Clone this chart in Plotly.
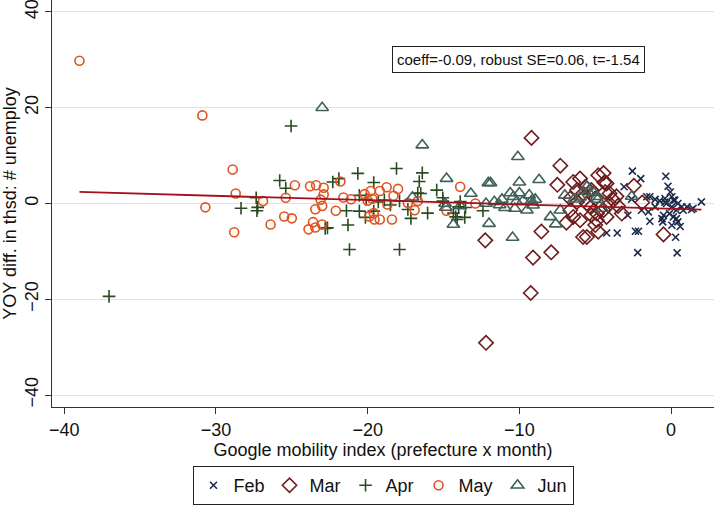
import plotly.graph_objects as go

# ---------------- data ----------------
feb_x = [-2.55, -2.0, -3.1, -0.35, -0.2, -0.05, -1.4, -1.05, -0.75, -0.4, 0.05, 0.25, 0.45, 0.7, 1.05, 1.35,
         2.0, -0.3, 0.05, 0.35, -1.5, -2.85, -1.4, -0.6, -0.55, 0.15, 0.45, 0.05, -4.25, -3.55, -2.35, -2.15,
         0.3, -2.2, 0.4, -1.6, 0.6, -0.5, -1.95, -1.05, 0.35, -0.1, 0.8, 1.45, -0.4, 0.15, -2.6]
feb_y = [6.75, 5.2, 3.5, 5.7, 3.6, 2.4, 1.4, 0.85, 0.55, 1.05, 1.4, 0.7, 0.0, -0.7, -0.7, -1.25,
         0.35, 0.0, -0.7, -1.4, -1.75, -2.45, -3.7, -3.15, -3.85, -2.8, -3.85, -4.55, -6.15, -6.15, -5.8, -5.8,
         -7.05, -10.25, -10.3, 1.4, -4.8, -2.45, -1.4, -0.7, -3.15, -2.1, -1.4, -1.05, 0.3, 0.7, 0.9]

mar_x = [-9.2, -7.3, -7.5, -12.25, -8.55, -9.1, -7.9, -9.25, -12.2, -4.45, -2.45, -1.9, -0.5, -4.4, -6.45,
         -6.0, -5.65, -6.2, -5.8, -5.25, -6.65, -6.2, -5.55, -5.0, -4.8, -6.45, -6.0, -5.8, -5.55, -6.65,
         -5.25, -4.9, -4.8, -3.25, -4.25, -4.05, -4.35, -3.8, -4.15, -4.45, -5.0, -4.25, -4.9, -3.6, -5.3,
         -6.9, -3.5]
mar_y = [13.7, 7.9, 3.9, -7.7, -5.85, -11.3, -10.2, -18.7, -29.1, 6.35, 3.7, 0.2, -6.45, 4.4, 4.5,
         5.2, 3.5, 2.8, 2.1, 2.8, 1.05, 0.35, 0.0, 1.05, 5.9, -2.8, -3.5, -7.0, -7.0, -1.4,
         -2.45, -3.5, -5.9, -2.1, 4.2, 2.1, 2.4, 0.7, -0.35, -1.4, -4.5, -2.8, -2.1, 1.5, -0.8,
         -4.0, -0.5]

apr_x = [-37.05, -25.05, -25.8, -25.4, -27.35, -28.35, -27.25, -27.3, -22.8, -22.3, -21.9, -20.65, -18.1,
         -16.4, -16.6, -15.45, -19.6, -20.55, -16.7, -16.5, -18.9, -17.9, -17.35, -21.4, -20.55, -20.15,
         -19.6, -17.15, -21.3, -22.65, -16.05, -21.2, -17.9, -15.05, -14.2, -14.0, -13.55, -13.6, -15.05,
         -14.35, -14.1, -12.4, -20.1, -19.3, -18.5, -13.9]
apr_y = [-19.4, 16.2, 4.8, 3.2, 1.2, -1.0, -0.8, -1.5, -5.2, 4.5, 5.2, 6.3, 7.3,
         6.4, 4.6, 2.8, 4.4, 1.7, 2.2, 2.1, 0.7, 0.55, -1.25, -1.5, -1.6, -2.9,
         -1.6, -3.1, -4.5, -5.1, -2.0, -9.6, -9.6, 0.5, -2.8, -0.7, -0.85, -2.9, 1.2,
         -2.0, -3.35, -1.5, 0.9, 0.3, -0.3, 0.4]

may_x = [-39.0, -30.9, -28.9, -28.7, -30.7, -28.8, -26.9, -26.4, -25.5, -25.4, -24.8, -25.0, -23.8, -23.4,
         -22.9, -22.9, -23.1, -23.0, -23.45, -23.6, -23.0, -23.45, -23.9, -21.8, -21.6, -21.1, -22.1, -20.2,
         -19.8, -19.7, -19.2, -18.75, -18.7, -18.3, -18.0, -19.6, -19.55, -19.2, -18.4, -17.35, -16.9, -16.7,
         -14.8, -13.9, -12.9, -20.0, -19.9]
may_y = [29.8, 18.4, 7.1, 2.1, -0.8, -6.0, 0.5, -4.4, -2.7, 1.2, 3.8, -3.1, 3.6, 3.8,
         3.3, 1.9, 0.8, -0.5, -1.2, -3.9, -4.4, -5.0, -5.4, 4.6, 1.25, 0.9, -1.5, 1.95,
         2.6, 1.0, 2.6, 3.4, -0.2, 1.6, 3.05, -2.0, -3.35, -3.35, -3.35, 0.1, -1.4, 0.5,
         -1.5, 3.5, 0.0, 0.6, -2.7]

jun_x = [-23.0, -16.4, -14.8, -13.2, -17.05, -14.9, -14.85, -14.35, -10.1, -12.05, -11.9, -10.0, -8.7,
         -12.0, -10.45, -7.95, -7.6, -7.3, -7.0, -5.55, -5.45, -2.6, -4.9, -4.55, -12.2, -11.65, -11.15,
         -10.95, -10.6, -10.4, -10.2, -10.0, -10.3, -9.75, -9.5, -9.35, -9.2, -8.95, -9.1, -5.1, -4.85,
         -6.4, -6.0, -11.3, -13.9]
jun_y = [20.0, 12.2, 5.2, 2.1, 1.3, 0.0, -0.85, -4.4, 9.75, 4.3, 4.3, 4.45, 4.95,
         -4.2, -7.1, -2.8, -4.3, -1.4, 1.7, 3.5, 2.4, 1.45, 1.4, -1.05, 0.0, 0.35, 0.85,
         -0.9, 2.2, 1.4, 0.35, 2.2, -1.05, 0.55, -1.4, 1.75, 0.55, 0.85, -0.35, 2.3, 0.85,
         0.9, 1.3, -0.3, -0.5]

fit_coeff = -0.09
fit_intercept = -1.1
note_text = "coeff=-0.09, robust SE=0.06, t=-1.54"

x_ticks = [-40, -30, -20, -10, 0]
y_ticks = [-40, -20, 0, 20, 40]

# ---------------- figure ----------------
FONT = "Liberation Sans, Arial, sans-serif"
fig = go.Figure()

series = [
    ("Feb", feb_x, feb_y, "x-thin", 7, "#1c2b4b"),
    ("Mar", mar_x, mar_y, "diamond-open", 11, "#6e1c1c"),
    ("Apr", apr_x, apr_y, "cross-thin", 9, "#2a4a1f"),
    ("May", may_x, may_y, "circle-open", 9, "#e0521e"),
    ("Jun", jun_x, jun_y, "triangle-up-open", 11, "#40605a"),
]
for name, xs, ys, sym, size, col in series:
    fig.add_trace(go.Scatter(
        x=xs, y=ys, mode="markers", name=name,
        marker=dict(symbol=sym, size=size, color=col,
                    line=dict(color=col, width=1.6)),
    ))

all_x = feb_x + mar_x + apr_x + may_x + jun_x
x0, x1 = min(all_x), max(all_x)
fig.add_trace(go.Scatter(
    x=[x0, x1], y=[fit_intercept + fit_coeff * x0, fit_intercept + fit_coeff * x1],
    mode="lines", line=dict(color="#a3101c", width=1.8), showlegend=False, hoverinfo="skip",
))

fig.add_annotation(
    text=note_text, xref="paper", yref="paper", x=0.705, y=0.854,
    xanchor="center", yanchor="middle", showarrow=False,
    font=dict(family=FONT, size=15, color="#111111"),
    bordercolor="#222222", borderwidth=1, borderpad=4, bgcolor="white",
)

fig.update_layout(
    width=714, height=505,
    margin=dict(l=52, r=0, t=0, b=98, autoexpand=False),
    paper_bgcolor="white", plot_bgcolor="white",
    font=dict(family=FONT, size=18, color="#111111"),
    showlegend=True,
    legend=dict(
        orientation="h", x=0.5, xanchor="center", y=-0.145, yanchor="top",
        bordercolor="#222222", borderwidth=1, font=dict(size=18),
        itemwidth=30, tracegroupgap=0,
    ),
    xaxis=dict(
        range=[-40.81, 2.83], tickvals=x_ticks, ticks="outside", ticklen=6, tickwidth=1,
        tickcolor="#333333", showline=True, linecolor="#333333", linewidth=1.3,
        showgrid=False, zeroline=False, automargin=False,
        title=dict(text="Google mobility index (prefecture x month)", standoff=2,
                   font=dict(size=18)),
        tickfont=dict(size=18),
    ),
    yaxis=dict(
        range=[-42.5, 42.5], tickvals=y_ticks, ticks="outside", ticklen=6, tickwidth=1,
        tickcolor="#333333", showline=True, linecolor="#333333", linewidth=1.3,
        showgrid=True, gridcolor="#d5e5ea", gridwidth=1, zeroline=False,
        tickangle=-90, automargin=False, ticklabeloverflow="allow",
        title=dict(text="YOY diff. in thsd: # unemploy", standoff=4, font=dict(size=18)),
        tickfont=dict(size=18),
    ),
)

fig.write_html("out.html")
